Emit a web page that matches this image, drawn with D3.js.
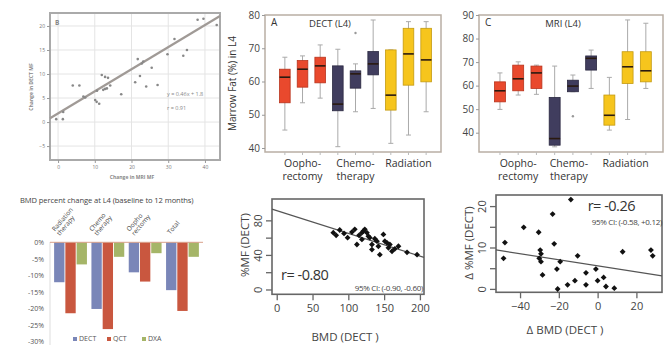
<!DOCTYPE html>
<html><head><meta charset="utf-8">
<script src="https://cdn.jsdelivr.net/npm/d3@7"></script>
<style>body{margin:0;background:#fff} svg{display:block} text{font-family:"Open Sans",sans-serif}</style>
</head><body><svg id="c" width="664" height="345"></svg>
<script>
// ---------- Panel B: change in MRI MF vs change in DECT MF ----------
const mriChange = [-0.5,1.3,1.4,4.0,5.8,6.9,7.4,10.1,10.5,11.2,10.6,11.9,12.8,13.6,12.3,12.8,13.3,14.2,17.2,21.0,21.7,22.3,22.8,23.2,24.0,25.5,27.1,29.8,31.7,34.1,35.1,38.0,39.6,43.2];
const dectChange = [0.6,0.6,2.1,7.6,7.6,5.3,5.1,4.6,4.2,3.8,6.5,9.8,9.4,9.2,6.7,6.9,7.0,7.6,5.8,8.3,13.1,9.6,12.2,12.6,7.4,11.3,7.7,14.1,17.3,13.8,15.0,21.3,21.5,20.2];
const bFit = {slope:0.46, intercept:1.8};
const bTicksX = [0,10,20,30,40];
const bTicksY = [-5,0,5,10,15,20];

// ---------- Panel A / C: box plots ----------
const boxGroups = ["Oopho-|rectomy","Chemo-|therapy","Radiation"];
const boxGroupOf = [0,0,0,1,1,1,2,2,2];
const dectLow  = [45.4,53.6,55.0,40.4,50.9,51.9,41.4,43.9,50.9];
const dectQ1   = [53.6,58.3,59.6,51.2,58.0,62.0,51.4,58.9,59.9];
const dectMed  = [61.3,63.7,64.7,53.2,62.3,65.3,55.9,68.3,66.5];
const dectQ3   = [63.7,66.3,67.3,64.7,63.2,69.0,69.5,76.0,76.0];
const dectHigh = [67.3,67.7,71.0,69.7,65.3,78.5,69.5,78.0,78.0];
const dectOutliers = [[4,74.6]];
const dectTicks = [40,50,60,70,80];

const mriLow  = [49.9,56.0,56.3,34.0,57.4,58.8,41.1,45.6,58.8];
const mriQ1   = [53.1,57.8,58.8,34.7,57.4,66.6,43.2,60.9,61.6];
const mriMed  = [57.8,62.9,65.4,37.5,59.8,71.6,47.4,68.0,66.3];
const mriQ3   = [61.6,68.7,68.3,55.0,62.3,72.6,56.0,74.4,74.4];
const mriHigh = [65.4,70.1,68.7,68.3,64.5,75.1,63.5,87.9,86.5];
const mriOutliers = [[4,47.0]];
const mriTicks = [40,50,60,70,80,90];

// ---------- Panel D: BMD percent change ----------
const bmdCats = ["Radiation|therapy","Chemo|therapy","Oopho|rectomy","Total"];
const bmdSeries = ["DECT","QCT","DXA"];
const bmdDECT = [-12.1,-20.2,-9.1,-14.5];
const bmdQCT  = [-21.5,-26.3,-11.9,-20.8];
const bmdDXA  = [-6.7,-4.4,-3.3,-4.4];
const bmdTicks = [0,-5,-10,-15,-20,-25,-30];

// ---------- Panel E: BMD vs %MF ----------
const eBMD = [79,83,88,99,105,109,112,115,119,121,123,126,128,130,133,133,137,140,142,144,149,151,154,156,158,161,165,170,182,196,119,94];
const eMF  = [66.3,63.2,69.4,60.5,67.0,70.2,52.6,63.2,66.3,68.2,70.2,66.3,62.3,60.5,52.6,46.8,59.3,56.5,50.6,40.9,64.3,56.5,54.6,48.8,52.6,44.8,47.6,50.6,43.6,40.9,58.5,65.5];
const eFit = {slope:-0.263, intercept:91.8};
const eTicksX = [0,50,100,150,200];
const eTicksY = [0,20,40,60,80];
const eLabelsY = [0,40,80];

// ---------- Panel F: change BMD vs change %MF ----------
const fBMD = [-47.8,-48.5,-38.1,-30.4,-23.2,-13.8,-22.4,-29.6,-29.2,-30.1,-29.2,-28.4,-21.0,-19.3,-20.6,-15.5,-11.7,-10.3,-6.0,-6.0,-0.9,0.0,3.1,4.3,8.6,12.9,27.5,28.4];
const fMF  = [11.3,7.5,15.0,13.8,18.2,21.7,11.0,9.5,8.6,7.5,6.7,3.5,4.9,6.7,0.1,1.1,2.1,8.1,4.0,1.1,4.9,2.1,2.9,0.7,0.3,9.1,9.5,8.1];
const fFit = {slope:-0.073, intercept:5.7};
const fTicksX = [-40,-20,0,20];
const fTicksY = [0,5,10,15,20];
const fLabelsY = [0,10,20];

const svg = d3.select("#c");

// =============== Panel B ===============
(function(){
  const g = svg.append("g");
  const x = d3.scaleLinear().domain([-2.2,44.1]).range([50,220]);
  const y = d3.scaleLinear().domain([-7.9,22.7]).range([160,13]);
  g.selectAll(".gx").data(bTicksX).join("line").attr("x1",d=>x(d)).attr("x2",d=>x(d)).attr("y1",13).attr("y2",160).attr("stroke","#e4e4e4");
  g.selectAll(".gy").data(bTicksY).join("line").attr("y1",d=>y(d)).attr("y2",d=>y(d)).attr("x1",50).attr("x2",220).attr("stroke","#e4e4e4");
  g.append("rect").attr("x",50).attr("y",13).attr("width",170).attr("height",147).attr("fill","none").attr("stroke","#aaa").attr("stroke-width",2);
  const ax = g.append("g").attr("transform","translate(0,160)").call(d3.axisBottom(x).tickValues(bTicksX).tickSize(3).tickPadding(2));
  const ay = g.append("g").attr("transform","translate(50,0)").call(d3.axisLeft(y).tickValues(bTicksY).tickSize(3).tickPadding(2));
  [ax,ay].forEach(a=>{a.select(".domain").remove(); a.selectAll("line").attr("stroke","#999"); a.selectAll("text").attr("font-size",5).attr("fill","#777");});
  g.append("line").attr("x1",x(-2.2)).attr("y1",y(bFit.intercept+bFit.slope*-2.2)).attr("x2",x(44.1)).attr("y2",y(bFit.intercept+bFit.slope*44.1)).attr("stroke","#a09a96").attr("stroke-width",2.2);
  g.selectAll("circle").data(mriChange).join("circle").attr("cx",d=>x(d)).attr("cy",(d,i)=>y(dectChange[i])).attr("r",1.3).attr("fill","#888");
  g.append("text").attr("x",55).attr("y",25).attr("font-size",6.5).attr("font-weight","bold").attr("fill","#888").text("B");
  g.append("text").attr("x",167).attr("y",96).attr("font-size",5.5).attr("fill","#888").text("y = 0.46x + 1.8");
  g.append("text").attr("x",167).attr("y",110).attr("font-size",5.5).attr("fill","#888").text("r = 0.91");
  g.append("text").attr("x",132).attr("y",179).attr("text-anchor","middle").attr("font-size",5).attr("font-weight","bold").attr("fill","#888").text("Change in MRI MF");
  g.append("text").attr("transform","translate(33,87) rotate(-90)").attr("text-anchor","middle").attr("font-size",5).attr("font-weight","bold").attr("fill","#888").text("Change in DECT MF");
})();

// =============== Box plot helper ===============
const groupFill = ["#e9492d","#403d5e","#f6c51d"];
const groupStroke = ["#b8331c","#2a2840","#c49a10"];
function boxPanel(opt){
  const g = svg.append("g");
  const y = d3.scaleLinear().domain(opt.yDomain).range([opt.bottom,opt.top]);
  const x = d3.scaleBand().domain(d3.range(9)).range(opt.xRange).padding(0.4);
  g.append("rect").attr("x",opt.left).attr("y",opt.top).attr("width",opt.right-opt.left).attr("height",opt.bottom-opt.top).attr("fill","none").attr("stroke","#b9aea4").attr("stroke-width",1.5);
  const ay = g.append("g").attr("transform",`translate(${opt.left},0)`).call(d3.axisLeft(y).tickValues(opt.ticks).tickSize(3).tickPadding(2));
  ay.select(".domain").remove(); ay.selectAll("line").attr("stroke","#999");
  ay.selectAll("text").attr("font-size",10).attr("fill","#444");
  g.selectAll(".bt").data(d3.range(9)).join("line").attr("x1",i=>x(i)+x.bandwidth()/2).attr("x2",i=>x(i)+x.bandwidth()/2).attr("y1",opt.bottom).attr("y2",opt.bottom+3).attr("stroke","#bbb");
  const bw = x.bandwidth();
  d3.range(9).forEach(i=>{
    const cx = x(i)+bw/2, gi = boxGroupOf[i];
    g.append("line").attr("x1",cx).attr("x2",cx).attr("y1",y(opt.low[i])).attr("y2",y(opt.high[i])).attr("stroke","#aaa").attr("stroke-width",1);
    [opt.low[i],opt.high[i]].forEach(v=>g.append("line").attr("x1",cx-2.5).attr("x2",cx+2.5).attr("y1",y(v)).attr("y2",y(v)).attr("stroke","#aaa"));
    g.append("rect").attr("x",x(i)).attr("y",y(opt.q3[i])).attr("width",bw).attr("height",Math.max(1,y(opt.q1[i])-y(opt.q3[i]))).attr("fill",groupFill[gi]).attr("stroke",groupStroke[gi]).attr("stroke-width",0.8);
    g.append("line").attr("x1",x(i)).attr("x2",x(i)+bw).attr("y1",y(opt.med[i])).attr("y2",y(opt.med[i])).attr("stroke","#2a1a10").attr("stroke-width",1.6);
  });
  opt.outliers.forEach(o=>g.append("circle").attr("cx",x(o[0])+bw/2).attr("cy",y(o[1])).attr("r",1.2).attr("fill","#999"));
  g.append("text").attr("x",opt.left+6).attr("y",opt.top+11).attr("font-size",10).attr("fill","#333").text(opt.letter);
  g.append("text").attr("x",opt.titleX).attr("y",opt.top+12).attr("text-anchor","middle").attr("font-size",9.5).attr("fill","#333").text(opt.title);
  boxGroups.forEach((lab,k)=>{
    const idx = [k*3, k*3+2];
    const cx = (x(idx[0])+x(idx[1])+bw)/2 + opt.labelShift[k];
    const lines = lab.split("|");
    lines.forEach((l,j)=>g.append("text").attr("x",cx).attr("y",opt.bottom+15+j*13).attr("text-anchor","middle").attr("font-size",10.5).attr("fill","#333").text(l));
  });
  if(opt.yLabel) g.append("text").attr("transform",`translate(${opt.yLabelX},${(opt.top+opt.bottom)/2}) rotate(-90)`).attr("text-anchor","middle").attr("font-size",10).attr("fill","#333").text(opt.yLabel);
}
boxPanel({left:265,right:441,top:15,bottom:152,yDomain:[38.8,80],xRange:[272.5,438.5],ticks:dectTicks,
  low:dectLow,q1:dectQ1,med:dectMed,q3:dectQ3,high:dectHigh,outliers:dectOutliers,letter:"A",title:"DECT (L4)",titleX:330,
  labelShift:[0,0,0],yLabel:"Marrow Fat (%) in L4",yLabelX:236});
boxPanel({left:479,right:663,top:15,bottom:152,yDomain:[31.8,90],xRange:[487.2,658.6],ticks:mriTicks,
  low:mriLow,q1:mriQ1,med:mriMed,q3:mriQ3,high:mriHigh,outliers:mriOutliers,letter:"C",title:"MRI (L4)",titleX:563,
  labelShift:[0,-4,-2],yLabel:null});

// =============== Panel D ===============
(function(){
  const g = svg.append("g");
  const y = d3.scaleLinear().domain([-30,0]).range([341.3,242.3]);
  const x = d3.scaleBand().domain(d3.range(4)).range([50,203]).paddingInner(0.0).paddingOuter(0.05);
  const xs = d3.scaleBand().domain(bmdSeries).range([0,x.bandwidth()]).paddingInner(0.08).paddingOuter(0.2);
  const vals = [bmdDECT,bmdQCT,bmdDXA];
  const cols = ["#7a86b8","#c9573f","#a5b568"];
  g.append("text").attr("x",20).attr("y",203).attr("font-size",7.6).attr("letter-spacing",-0.1).attr("fill","#444").text("BMD percent change at L4 (baseline to 12 months)");
  g.append("line").attr("x1",50).attr("x2",50).attr("y1",242).attr("y2",345).attr("stroke","#ddd");
  const ay = g.append("g").attr("transform","translate(50,0)").call(d3.axisLeft(y).tickValues(bmdTicks).tickSize(0).tickPadding(6).tickFormat(d=>d+"%"));
  ay.select(".domain").remove(); ay.selectAll("text").attr("font-size",7).attr("fill","#555");
  vals.forEach((arr,s)=>{
    g.selectAll(".b"+s).data(arr).join("rect").attr("x",(d,i)=>x(i)+xs(bmdSeries[s])).attr("y",y(0)).attr("width",xs.bandwidth()).attr("height",d=>y(d)-y(0)).attr("fill",cols[s]);
  });
  g.append("line").attr("x1",50).attr("x2",203).attr("y1",y(0)).attr("y2",y(0)).attr("stroke","#d9a08a").attr("stroke-width",1);
  bmdCats.forEach((c,i)=>{
    const lines = c.split("|");
    const t = g.append("text").attr("transform",`translate(${x(i)+8},236) rotate(-50)`).attr("font-size",6.5).attr("fill","#444");
    if(lines.length===2){
      t.append("tspan").attr("x",0).attr("y",-6.5).text(lines[0]);
      t.append("tspan").attr("x",0).attr("y",0).text(lines[1]);
    } else t.append("tspan").attr("x",0).attr("y",-2).text(lines[0]);
  });
  const lx = [73,107,142];
  bmdSeries.forEach((s,k)=>{
    g.append("rect").attr("x",lx[k]).attr("y",337).attr("width",4).attr("height",4).attr("fill",cols[k]);
    g.append("text").attr("x",lx[k]+6).attr("y",341).attr("font-size",7).attr("fill","#555").text(s);
  });
})();

// =============== Scatter helper (E, F) ===============
function scatterPanel(opt){
  const g = svg.append("g");
  const x = d3.scaleLinear().domain(opt.xDomain).range([opt.left,opt.right]);
  const y = d3.scaleLinear().domain(opt.yDomain).range([opt.bottom,opt.top]);
  g.append("rect").attr("x",opt.left).attr("y",opt.top).attr("width",opt.right-opt.left).attr("height",opt.bottom-opt.top).attr("fill","none").attr("stroke","#666").attr("stroke-width",1.6);
  const ax = g.append("g").attr("transform",`translate(0,${opt.bottom})`).call(d3.axisBottom(x).tickValues(opt.ticksX).tickSize(6).tickPadding(4));
  ax.select(".domain").remove(); ax.selectAll("line").attr("stroke","#666").attr("stroke-width",1.3);
  ax.selectAll("text").attr("font-size",11).attr("fill","#444");
  const ay = g.append("g").attr("transform",`translate(${opt.left},0)`).call(d3.axisLeft(y).tickValues(opt.ticksY).tickSize(6).tickFormat(d=>opt.labelsY.includes(d)?d:""));
  ay.select(".domain").remove(); ay.selectAll("line").attr("stroke","#666").attr("stroke-width",1.3);
  ay.selectAll(".tick").attr("transform","translate(0,0)");
  ay.selectAll(".tick line").attr("y1",d=>y(d)).attr("y2",d=>y(d));
  ay.selectAll("text").attr("font-size",11).attr("fill","#444").attr("text-anchor","middle").attr("dy",0).attr("x",0).attr("y",0).attr("transform",d=>`translate(-10,${y(d)}) rotate(-90)`);
  const xa = opt.xDomain[0], xb = opt.xDomain[1];
  g.append("line").attr("x1",x(xa)).attr("y1",y(opt.fit.intercept+opt.fit.slope*xa)).attr("x2",x(xb)).attr("y2",y(opt.fit.intercept+opt.fit.slope*xb)).attr("stroke","#555").attr("stroke-width",1.2);
  const sym = d3.symbol().type(d3.symbolSquare).size(17);
  g.selectAll("path.pt").data(opt.xs).join("path").attr("class","pt").attr("d",sym).attr("transform",(d,i)=>`translate(${x(d)},${y(opt.ys[i])}) rotate(45)`).attr("fill","#111");
  g.append("text").attr("x",opt.xLabelX).attr("y",opt.xLabelY).attr("text-anchor","middle").attr("font-size",11.5).attr("fill","#444").text(opt.xLabel);
  g.append("text").attr("transform",`translate(${opt.yLabelX},${opt.yLabelY}) rotate(-90)`).attr("text-anchor","middle").attr("font-size",11.5).attr("fill","#444").text(opt.yLabel);
  g.append("text").attr("x",opt.rX).attr("y",opt.rY).attr("text-anchor",opt.rAnchor).attr("font-size",14.5).attr("letter-spacing",-0.5).attr("fill","#333").text(opt.rText);
  g.append("text").attr("x",opt.ciX).attr("y",opt.ciY).attr("text-anchor","end").attr("font-size",8).attr("letter-spacing",-0.3).attr("fill","#444").text(opt.ciText);
}
scatterPanel({left:272,right:424,top:199,bottom:294.3,xDomain:[-6.6,205.7],yDomain:[-5,105.3],ticksX:eTicksX,ticksY:eTicksY,labelsY:eLabelsY,
  xs:eBMD,ys:eMF,fit:eFit,xLabel:"BMD (DECT )",xLabelX:345,xLabelY:341,yLabel:"%MF (DECT)",yLabelX:249,yLabelY:245,
  rText:"r= -0.80",rX:281,rY:280,rAnchor:"start",ciText:"95% CI: (-0.90, -0.60)",ciX:423,ciY:291});
scatterPanel({left:496,right:662,top:195,bottom:292.3,xDomain:[-52.4,33.2],yDomain:[-0.7,22.8],ticksX:fTicksX,ticksY:fTicksY,labelsY:fLabelsY,
  xs:fBMD,ys:fMF,fit:fFit,xLabel:"\u0394 BMD (DECT )",xLabelX:565,xLabelY:334,yLabel:"\u0394 %MF (DECT)",yLabelX:473,yLabelY:243,
  rText:"r= -0.26",rX:635,rY:211,rAnchor:"end",ciText:"95% CI: (-0.58, +0.12)",ciX:662,ciY:225});
</script></body></html>
